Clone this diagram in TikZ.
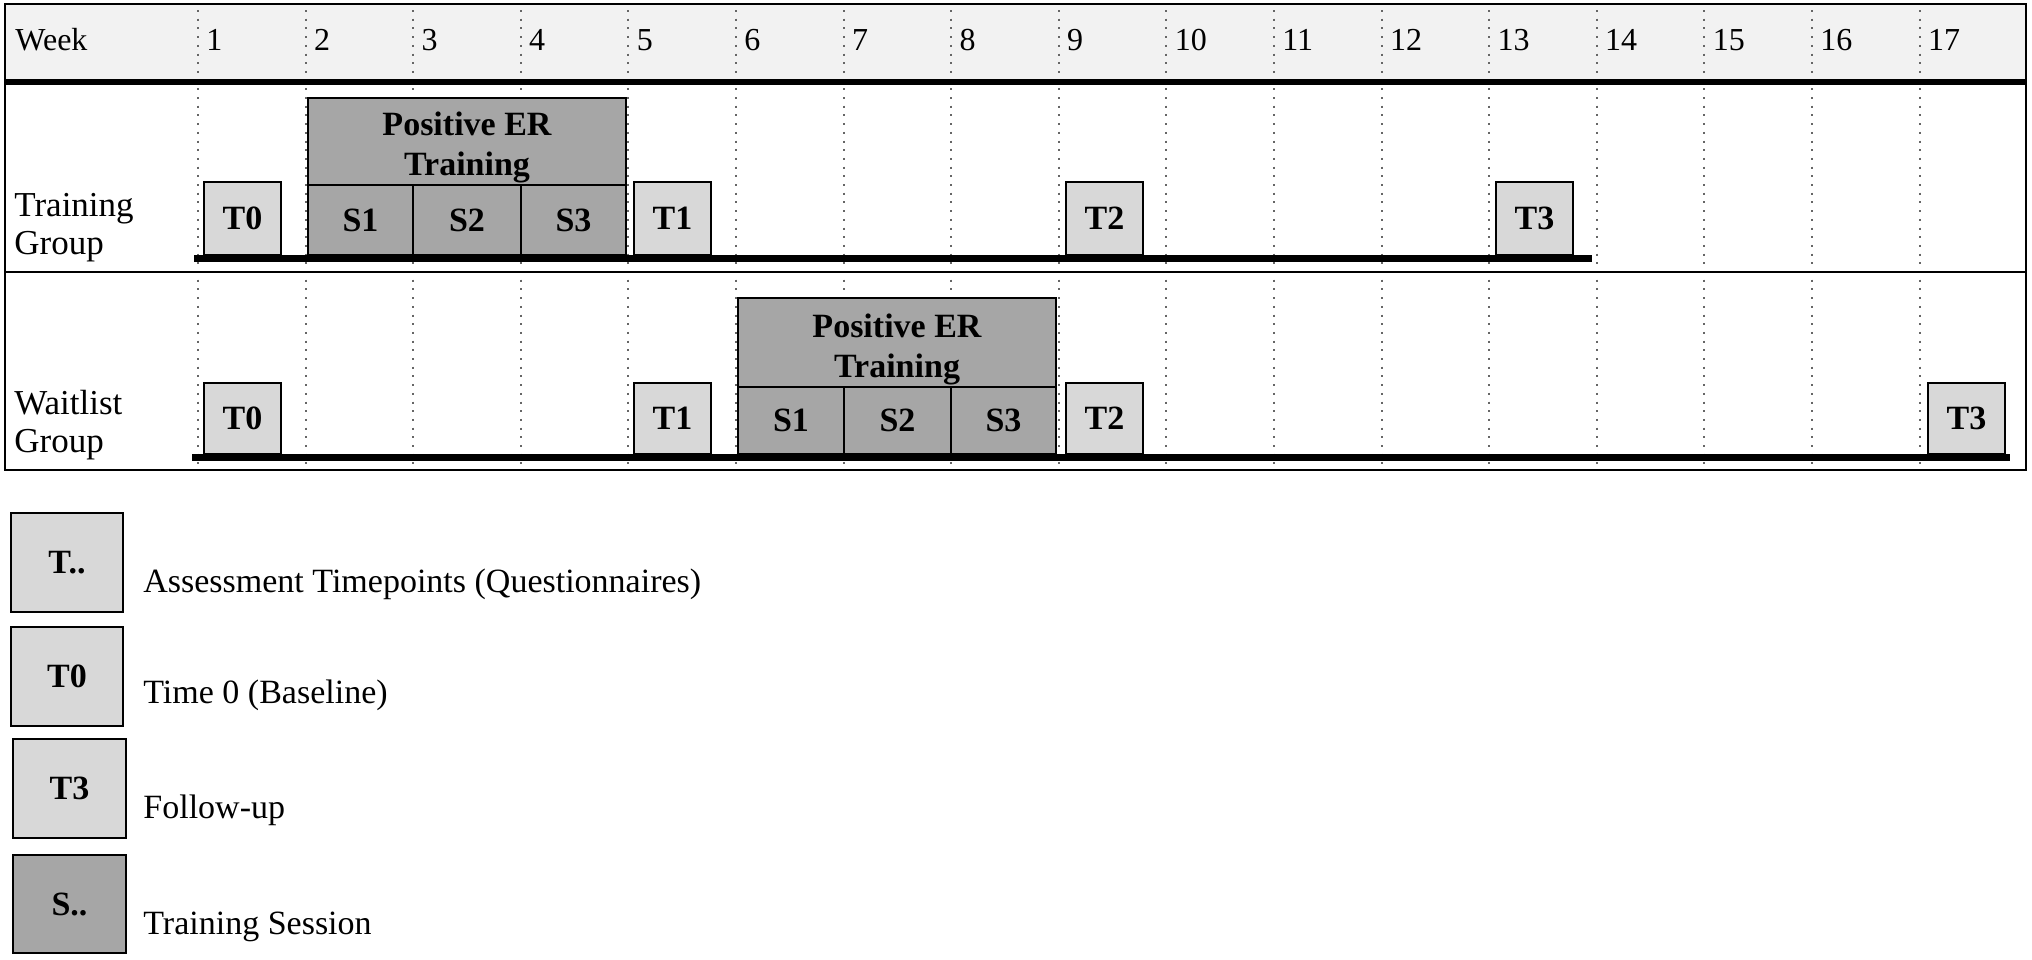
\documentclass[tikz,border=0pt]{standalone}
\usepackage{fontspec}
\setmainfont{Liberation Serif}
\definecolor{hdrgray}{HTML}{F2F2F2}
\definecolor{tgray}{HTML}{D8D8D8}
\definecolor{sgray}{HTML}{A6A6A6}
\definecolor{dotgray}{HTML}{666666}
\tikzset{
  boxbase/.style={draw=black, line width=1.25pt, inner sep=0pt, outer sep=0pt, anchor=south west,
    font=\fontsize{17}{20}\selectfont\bfseries},
  tbox/.style={boxbase, fill=tgray, minimum width=38.5pt},
  sbox/.style={boxbase, fill=sgray},
  pertext/.style={inner sep=0pt, anchor=base, align=center, font=\fontsize{17}{20}\selectfont\bfseries},
  hdrtext/.style={inner sep=0pt, anchor=base west, font=\fontsize{16}{18}\selectfont},
  grptext/.style={inner sep=0pt, anchor=base west, align=left, font=\fontsize{17.5}{19}\selectfont},
  legtext/.style={inner sep=0pt, anchor=base west, font=\fontsize{17}{20}\selectfont},
  dotline/.style={draw=dotgray, line width=1pt, dash pattern=on 1pt off 3.35pt},
  tlbar/.style={line width=3.5pt, draw=black},
}
\begin{document}
\begin{tikzpicture}[x=0.5pt, y=-0.5pt]
\useasboundingbox[fill=white] (0,0) rectangle (2032,959);
% header background
\fill[hdrgray] (5,4) rectangle (2026,82);
% week dotted lines
\foreach \k in {1,...,17} {
  \draw[dotline] ({198+(\k-1)*107.6},10) -- ({198+(\k-1)*107.6},470);
  \node[hdrtext] (wk\k) at ({198+(\k-1)*107.6+8},50) {\k};
}
\node[hdrtext] (weeklbl) at (15,50) {Week};
% group labels (base anchor = last line)
\node[grptext] (tglbl) at (14,254) {Training\\Group};
\node[grptext] (wglbl) at (14,452) {Waitlist\\Group};

% ---------- Training group ----------
\node[sbox, minimum width=159pt, minimum height=43.5pt] (tgPER) at (308,185) {};
\node[sbox, minimum width=52.5pt, minimum height=35pt] (tgS1) at (308,255) {S1};
\node[sbox, minimum width=54pt, minimum height=35pt] (tgS2) at (413,255) {S2};
\node[sbox, minimum width=52.5pt, minimum height=35pt] (tgS3) at (521,255) {S3};
\node[pertext] (tgPERtxt) at (467,175) {Positive ER\\Training};
\node[tbox, minimum height=36.5pt] (tgT0) at (204,255) {T0};
\node[tbox, minimum height=36.5pt] (tgT1) at (634,255) {T1};
\node[tbox, minimum height=36.5pt] (tgT2) at (1066,255) {T2};
\node[tbox, minimum height=36.5pt] (tgT3) at (1496,255) {T3};
\coordinate (tgstart) at (194,258.5);
\coordinate (tgend) at (1592,258.5);
\draw[tlbar] (tgstart) -- (tgend);

% ---------- Waitlist group ----------
\node[sbox, minimum width=159pt, minimum height=44.5pt] (wgPER) at (738,387) {};
\node[sbox, minimum width=53pt, minimum height=33.5pt] (wgS1) at (738,454) {S1};
\node[sbox, minimum width=53.5pt, minimum height=33.5pt] (wgS2) at (844,454) {S2};
\node[sbox, minimum width=52.5pt, minimum height=33.5pt] (wgS3) at (951,454) {S3};
\node[pertext] (wgPERtxt) at (897,377) {Positive ER\\Training};
\node[tbox, minimum height=35.5pt] (wgT0) at (204,454) {T0};
\node[tbox, minimum height=35.5pt] (wgT1) at (634,454) {T1};
\node[tbox, minimum height=35.5pt] (wgT2) at (1066,454) {T2};
\node[tbox, minimum height=35.5pt] (wgT3) at (1928,454) {T3};
\coordinate (wgstart) at (192,457.5);
\coordinate (wgend) at (2010,457.5);
\draw[tlbar] (wgstart) -- (wgend);

% table lines
\draw[line width=3pt] (5,82) -- (2026,82);
\draw[line width=1.3pt] (5,272) -- (2026,272);
\draw[line width=1.4pt] (5,4) rectangle (2026,470);

% ---------- Legend ----------
\node[tbox, minimum width=56pt, minimum height=49.5pt] (lgT) at (11,612) {T..};
\node[legtext] (lgTtxt) at (143,592) {Assessment Timepoints (Questionnaires)};
\node[tbox, minimum width=56pt, minimum height=49.5pt] (lgT0) at (11,726) {T0};
\node[legtext] (lgT0txt) at (143,703) {Time 0 (Baseline)};
\node[tbox, minimum width=56.5pt, minimum height=49.5pt] (lgT3) at (13,838) {T3};
\node[legtext] (lgT3txt) at (143,818) {Follow-up};
\node[sbox, minimum width=56.5pt, minimum height=49pt] (lgS) at (13,953) {S..};
\node[legtext] (lgStxt) at (143,934) {Training Session};
\end{tikzpicture}
\end{document}
